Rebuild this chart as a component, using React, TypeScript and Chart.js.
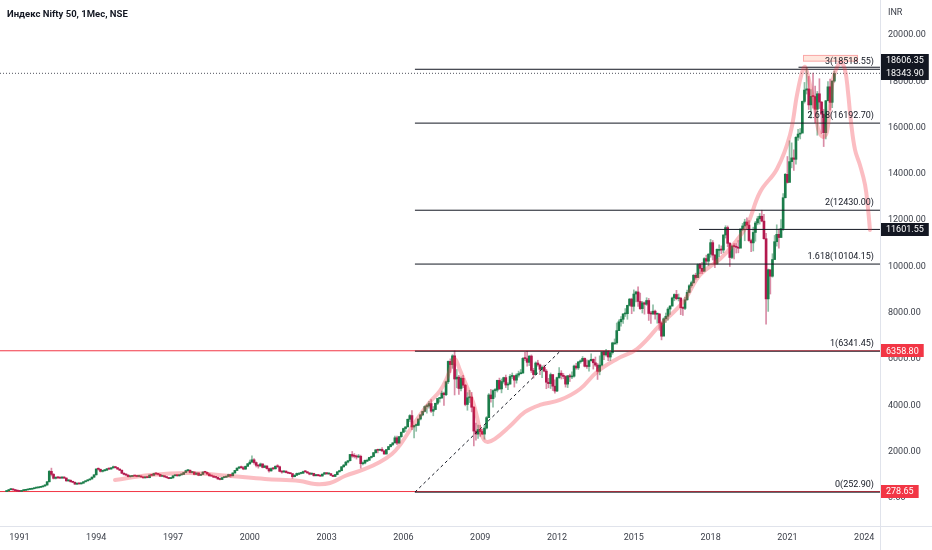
import { useEffect, useRef } from "react"
import { Chart, registerables } from "chart.js"

Chart.register(...registerables)

const TITLE = "Индекс Nifty 50, 1Мес, NSE"
const CURRENCY = "INR"
const FONT = "Roboto, 'Liberation Sans', sans-serif"

// x axis counts months from Jan 1991; the first candle is Jul 1990
const FIRST_MONTH = -6
const FIRST_OPEN = 279
const X_MIN = -9.1
const X_MAX = 403.4
const Y_MIN = -1210
const Y_MAX = 21511

const yearTicks = [1991, 1994, 1997, 2000, 2003, 2006, 2009, 2012, 2015, 2018, 2021, 2024]
const priceTicks = [0, 2000, 4000, 6000, 8000, 10000, 12000, 14000, 16000, 18000, 20000]

// monthly closes, Jul 1990 .. Nov 2022
const closes = [
  310, 360, 390, 350, 320, 300,
  285, 320, 330, 350, 370, 380, 400, 430, 440, 460, 480, 520,
  560, 700, 1150, 1020, 850, 880, 870, 860, 900, 860, 740, 760,
  700, 680, 600, 620, 610, 640, 700, 740, 780, 820, 900, 1000,
  1250, 1240, 1150, 1180, 1200, 1260, 1250, 1300, 1350, 1310, 1250, 1200,
  1070, 1020, 990, 920, 930, 960, 950, 930, 940, 910, 870, 910,
  880, 990, 980, 1060, 1040, 1020, 940, 960, 910, 880, 840, 870,
  960, 980, 960, 1000, 1020, 1100, 1180, 1200, 1100, 1120, 1020, 1080,
  980, 1020, 1120, 1110, 1040, 960, 950, 900, 890, 820, 800, 880,
  900, 930, 1010, 960, 1080, 1190, 1290, 1340, 1310, 1250, 1370, 1480,
  1550, 1650, 1530, 1410, 1380, 1470, 1320, 1380, 1270, 1170, 1270, 1260,
  1370, 1350, 1150, 1120, 1160, 1100, 1070, 1050, 920, 980, 1060, 1060,
  1070, 1140, 1130, 1080, 1030, 1060, 960, 1010, 960, 950, 1030, 1090,
  1040, 1050, 980, 930, 1010, 1130, 1180, 1350, 1420, 1550, 1610, 1880,
  1810, 1800, 1770, 1800, 1480, 1510, 1630, 1630, 1750, 1790, 1960, 2080,
  2060, 2100, 2030, 1900, 2090, 2220, 2310, 2380, 2600, 2370, 2650, 2840,
  3000, 3070, 3400, 3560, 3070, 3130, 3140, 3410, 3590, 3740, 3950, 3970,
  4080, 3750, 3820, 4090, 4300, 4320, 4530, 4460, 5020, 5900, 5760, 6140,
  5140, 5220, 4730, 5170, 4870, 4040, 4330, 4360, 3920, 2890, 2760, 2960,
  2870, 2760, 3020, 3470, 4450, 4290, 4640, 4660, 5080, 4710, 5030, 5200,
  4880, 4920, 5250, 5280, 5090, 5310, 5370, 5400, 6030, 6020, 5860, 6130,
  5510, 5330, 5830, 5750, 5560, 5650, 5480, 5000, 4940, 5330, 4830, 4620,
  5200, 5390, 5300, 5250, 4920, 5280, 5230, 5260, 5700, 5620, 5880, 5910,
  6030, 5690, 5680, 5930, 5990, 5840, 5740, 5470, 5740, 6300, 6180, 6300,
  6090, 6280, 6700, 6700, 7230, 7610, 7720, 7950, 7960, 8320, 8590, 8280,
  8810, 8900, 8490, 8180, 8430, 8370, 8530, 7970, 7950, 8070, 7940, 7950,
  7560, 6990, 7740, 7850, 8160, 8290, 8640, 8790, 8610, 8630, 8220, 8190,
  8560, 8880, 9170, 9300, 9620, 9520, 10080, 9920, 9790, 10340, 10230, 10530,
  11030, 10490, 10110, 10740, 10740, 10710, 11360, 11680, 11000, 10390, 10880, 10860,
  10830, 10790, 11620, 11750, 11920, 11790, 11120, 11020, 11470, 11880, 12060, 12170,
  11960, 11200, 8600, 9860, 9580, 10300, 11070, 11390, 11250, 11640, 12970, 13980,
  13630, 14530, 14690, 14630, 15580, 15720, 15760, 17130, 17620, 17670, 16980, 17350,
  17340, 16790, 17460, 17100, 16580, 15780, 17160, 17760, 17090, 18010, 18343.9,
]

const highs = [
  318, 368, 405, 395, 358, 330,
  310, 325, 340, 360, 378, 392, 410, 440, 452, 470, 492, 530,
  575, 720, 1190, 1290, 1060, 920, 920, 900, 930, 920, 870, 790,
  790, 720, 690, 640, 640, 660, 710, 750, 800, 830, 910, 1010,
  1270, 1300, 1250, 1200, 1220, 1280, 1290, 1320, 1380, 1370, 1320, 1260,
  1210, 1090, 1040, 1000, 950, 980, 975, 960, 960, 950, 915, 920,
  925, 1000, 1010, 1070, 1090, 1060, 1030, 970, 965, 920, 890, 890,
  970, 1000, 1010, 1020, 1040, 1110, 1200, 1220, 1210, 1140, 1130, 1090,
  1090, 1030, 1130, 1150, 1120, 1050, 980, 960, 920, 900, 840, 890,
  920, 950, 1030, 1030, 1090, 1200, 1300, 1360, 1380, 1360, 1380, 1490,
  1640, 1818, 1700, 1560, 1440, 1510, 1480, 1420, 1400, 1290, 1300, 1310,
  1390, 1440, 1380, 1180, 1200, 1170, 1120, 1090, 1060, 1010, 1080, 1100,
  1100, 1160, 1180, 1140, 1100, 1080, 1070, 1020, 1020, 975, 1040, 1110,
  1100, 1080, 1070, 990, 1020, 1140, 1200, 1360, 1450, 1580, 1620, 1890,
  2010, 1920, 1860, 1880, 1850, 1560, 1640, 1680, 1760, 1810, 1970, 2090,
  2110, 2110, 2180, 2060, 2100, 2230, 2320, 2390, 2670, 2670, 2660, 2850,
  3020, 3080, 3410, 3600, 3780, 3140, 3200, 3420, 3600, 3750, 3980, 4050,
  4170, 4250, 3950, 4100, 4300, 4330, 4620, 4580, 5050, 5920, 6010, 6190,
  6360, 5550, 5300, 5230, 5300, 4910, 4550, 4650, 4560, 3960, 3240, 3150,
  3140, 2980, 3120, 3520, 4510, 4690, 4670, 4730, 5090, 5180, 5140, 5220,
  5310, 4990, 5330, 5400, 5280, 5370, 5480, 5550, 6070, 6290, 6340, 6150,
  6180, 5600, 5880, 5950, 5780, 5710, 5740, 5550, 5170, 5400, 5330, 5100,
  5220, 5630, 5500, 5380, 5280, 5290, 5350, 5450, 5740, 5820, 5890, 5970,
  6110, 6050, 5970, 5960, 6230, 6010, 6090, 5810, 6140, 6310, 6340, 6420,
  6360, 6290, 6730, 6870, 7560, 7700, 7840, 7970, 8180, 8330, 8620, 8630,
  8990, 8940, 9120, 8850, 8490, 8470, 8650, 8620, 8060, 8340, 8120, 7980,
  7970, 7600, 7780, 7990, 8220, 8310, 8680, 8820, 8970, 8810, 8670, 8270,
  8670, 8980, 9220, 9370, 9650, 9710, 10110, 10140, 10180, 10380, 10490, 10560,
  11170, 11120, 10530, 10760, 10930, 10890, 11370, 11760, 11750, 11040, 10920, 10990,
  10990, 11120, 11630, 11860, 12040, 12100, 11980, 11180, 11700, 11950, 12160, 12290,
  12430, 12250, 11430, 9890, 9600, 10550, 11340, 11800, 11620, 12030, 13150, 14020,
  14750, 15430, 15340, 15040, 15610, 15920, 15960, 17150, 17950, 18600, 18210, 17640,
  18350, 17790, 17560, 18110, 17130, 16790, 17170, 17990, 18100, 18020, 18443,
]

const lows = [
  276, 302, 352, 340, 312, 295,
  275, 282, 315, 325, 345, 362, 375, 395, 420, 432, 455, 475,
  505, 550, 690, 950, 820, 820, 840, 830, 850, 840, 720, 720,
  690, 660, 590, 580, 595, 600, 635, 690, 730, 770, 810, 890,
  990, 1200, 1120, 1120, 1150, 1190, 1220, 1240, 1290, 1290, 1230, 1180,
  1050, 1000, 960, 905, 900, 920, 935, 915, 920, 900, 860, 860,
  870, 870, 955, 970, 1010, 1000, 930, 925, 900, 860, 830, 830,
  860, 950, 940, 940, 985, 1010, 1090, 1150, 1080, 1080, 1000, 1000,
  960, 970, 1010, 1080, 1010, 940, 930, 880, 860, 810, 780, 790,
  870, 880, 925, 900, 950, 1070, 1180, 1270, 1280, 1220, 1230, 1360,
  1440, 1540, 1460, 1340, 1290, 1370, 1300, 1310, 1250, 1110, 1160, 1230,
  1250, 1320, 1130, 1070, 1110, 1080, 1060, 1040, 850, 910, 970, 1040,
  1040, 1060, 1110, 1070, 1000, 1010, 950, 950, 950, 920, 940, 1020,
  1030, 1020, 960, 920, 925, 1000, 1120, 1170, 1320, 1410, 1520, 1600,
  1760, 1730, 1680, 1740, 1290, 1430, 1470, 1580, 1620, 1720, 1780, 1930,
  1950, 2050, 2020, 1890, 1900, 2080, 2200, 2260, 2380, 2300, 2370, 2620,
  2830, 2870, 3070, 3300, 2950, 2600, 2880, 3120, 3370, 3550, 3720, 3660,
  3880, 3700, 3550, 3810, 4030, 4140, 4300, 4000, 4420, 4940, 5420, 5600,
  4450, 4760, 4470, 4630, 4770, 3980, 3790, 4120, 3720, 2250, 2500, 2570,
  2660, 2740, 2540, 2980, 3480, 4140, 3920, 4360, 4580, 4690, 4540, 4960,
  4770, 4680, 4920, 5160, 4790, 4960, 5220, 5350, 5380, 5930, 5690, 5720,
  5420, 5180, 5350, 5690, 5330, 5200, 5450, 4720, 4760, 4730, 4640, 4530,
  4590, 5160, 5140, 5150, 4790, 4770, 5030, 5150, 5220, 5560, 5550, 5820,
  5890, 5660, 5600, 5480, 5910, 5570, 5680, 5120, 5320, 5700, 5970, 6130,
  5930, 5930, 6210, 6640, 6640, 7230, 7420, 7540, 7840, 7720, 8290, 7960,
  8070, 8470, 8270, 8140, 7990, 7940, 8320, 7670, 7540, 7930, 7720, 7550,
  7240, 6830, 7040, 7580, 7680, 7930, 8290, 8520, 8560, 8510, 7920, 7890,
  8130, 8540, 8860, 9100, 9270, 9450, 9550, 9690, 9690, 9830, 10090, 10030,
  10400, 10280, 9950, 10110, 10420, 10550, 10600, 11230, 10850, 10000, 10340, 10330,
  10580, 10590, 10820, 11550, 11110, 11630, 11080, 10640, 10670, 11090, 11800, 11830,
  11930, 11180, 7510, 8060, 8810, 9540, 10300, 10880, 10790, 11350, 11560, 12960,
  13600, 13660, 14260, 14150, 14420, 15450, 15510, 15830, 17060, 17450, 16780, 16410,
  16840, 16200, 15670, 16820, 15740, 15180, 15510, 17150, 16750, 16860, 17960,
]

// trend-based fib extension
const fibLevels = [0, 1, 1.618, 2, 2.618, 3]
const fibPrices = [252.9, 6341.45, 10104.15, 12430, 16192.7, 18518.55]
const fibStart = 185.4
const trendStart = [185.4, 252.9]
const trendEnd = [253.5, 6341.45]

const redLevels = [6358.8, 278.65]
const rayStarts = [318.6, 365.2]
const rayPrices = [11601.55, 18606.35]
const lastPrice = 18343.9

// hand-drawn brush
const brushMonths = [
  44.8, 61.2, 79.9, 98.7, 115.1, 131.5, 138.5, 145.6, 152.6, 162.0, 169.0, 174.6, 178.4,
  183.1, 187.8, 192.4, 197.1, 200.4, 202.8, 204.2, 206.5, 209.8, 212.6, 214.5, 215.9,
  217.8, 219.6, 222.9, 230.0, 237.0, 244.0, 253.4, 262.8, 270.7, 280.1, 289.5, 300.3,
  311.1, 319.0, 328.4, 334.5, 341.1, 347.2, 355.1, 361.2, 364.5, 366.9, 368.3, 370.6,
  373.0, 374.4, 376.7, 378.5, 380.0, 381.4, 383.3, 385.1, 387.0, 388.4, 389.8, 391.7,
  394.0, 396.4, 397.8, 398.7,
]
const brushPrices = [
  778, 994, 1080, 950, 821, 734, 605, 648, 950, 1253, 1555, 1901, 2290,
  2938, 3586, 4147, 4622, 5184, 5789, 6005, 5530, 4795, 4147, 3499, 2938,
  2506, 2419, 2549, 3110, 3715, 4018, 4234, 4709, 5443, 6005, 6437, 7474,
  8467, 9634, 10325, 10930, 11794, 13219, 14213, 15682, 17410, 18403, 18619, 17842,
  16805, 15941, 15595, 15811, 16978, 18101, 18619, 18792, 18490, 17539, 16243, 15034,
  14386, 13522, 12485, 11578,
]

// small rectangle drawn behind the "3" label
const noteMonths = [367.3, 393.1]
const notePrices = [18848, 19138]

const UP = "#1b7d4a"
const DOWN = "#b3194e"
const UP_WICK = "rgba(27, 125, 74, 0.5)"
const DOWN_WICK = "rgba(179, 25, 78, 0.5)"
const RED = "#f23645"
const INK = "#131722"
const AXIS_TEXT = "#3a3e48"
const SEPARATOR = "#e0e3eb"

const overlayPlugin = {
  id: "overlay",
  beforeDatasetsDraw(chart: any) {
    const { ctx, scales } = chart
    const x = scales.x
    const y = scales.y
    const l = x.getPixelForValue(noteMonths[0])
    const r = x.getPixelForValue(noteMonths[1])
    const t = y.getPixelForValue(notePrices[1])
    const b = y.getPixelForValue(notePrices[0])
    ctx.save()
    ctx.fillStyle = "rgba(255, 200, 180, 0.45)"
    ctx.fillRect(l, t, r - l, b - t)
    ctx.strokeStyle = "rgba(242, 54, 69, 0.35)"
    ctx.lineWidth = 1
    ctx.strokeRect(l + 0.5, t + 0.5, r - l - 1, b - t - 1)
    ctx.restore()
  },
  afterDatasetsDraw(chart: any) {
    const { ctx, chartArea, scales } = chart
    const y = scales.y
    ctx.save()
    ctx.font = `9px ${FONT}`
    ctx.fillStyle = INK
    ctx.textAlign = "right"
    ctx.textBaseline = "bottom"
    fibLevels.forEach((lvl, i) => {
      const py = y.getPixelForValue(fibPrices[i])
      ctx.fillText(`${lvl}(${fibPrices[i].toFixed(2)})`, chartArea.right - 6, py - 3)
    })
    ctx.restore()
  },
  afterDraw(chart: any) {
    const { ctx, chartArea, scales, width, height } = chart
    const y = scales.y
    ctx.save()
    // pane separators
    ctx.strokeStyle = SEPARATOR
    ctx.lineWidth = 1
    ctx.beginPath()
    ctx.moveTo(0, Math.round(chartArea.bottom) + 0.5)
    ctx.lineTo(width, Math.round(chartArea.bottom) + 0.5)
    ctx.moveTo(Math.round(chartArea.right) + 0.5, 0)
    ctx.lineTo(Math.round(chartArea.right) + 0.5, height)
    ctx.stroke()

    ctx.font = `9px ${FONT}`
    ctx.fillStyle = AXIS_TEXT
    ctx.textAlign = "left"
    ctx.textBaseline = "middle"
    ctx.fillText(CURRENCY, chartArea.right + 8, 13)

    // price labels on the scale
    const labels = [
      { price: rayPrices[1], bg: INK },
      { price: lastPrice, bg: INK },
      { price: rayPrices[0], bg: INK },
      { price: redLevels[0], bg: RED },
      { price: redLevels[1], bg: RED },
    ].map((l) => ({ ...l, py: y.getPixelForValue(l.price) }))
    labels.sort((a, b) => a.py - b.py)
    const h = 13
    for (let i = labels.length - 2; i >= 0; i--) {
      if (labels[i].py > labels[i + 1].py - h) labels[i].py = labels[i + 1].py - h
    }
    labels.forEach((l) => {
      const text = l.price.toFixed(2)
      const w = ctx.measureText(text).width + 10
      ctx.fillStyle = l.bg
      ctx.fillRect(chartArea.right + 1, Math.round(l.py - h / 2), w, h)
      ctx.fillStyle = "#ffffff"
      ctx.fillText(text, chartArea.right + 6, l.py + 0.5)
    })
    ctx.restore()
  },
}

export default function App() {
  const canvasRef = useRef<HTMLCanvasElement | null>(null)
  const chartRef = useRef<Chart | null>(null)

  useEffect(() => {
    if (!canvasRef.current) return

    const opens = closes.map((_, i) => (i === 0 ? FIRST_OPEN : closes[i - 1]))
    const months = closes.map((_, i) => FIRST_MONTH + i)
    const rising = closes.map((c, i) => c >= opens[i])

    const flat = (from: number, price: number) => [
      { x: from, y: price },
      { x: X_MAX, y: price },
    ]

    const lineSet = (data: any[], color: string, order: number, extra: any = {}) => ({
      type: "line" as const,
      data,
      borderColor: color,
      borderWidth: 1,
      pointRadius: 0,
      pointHoverRadius: 0,
      pointBorderWidth: 0,
      tension: 0,
      order,
      ...extra,
    })

    const datasets: any[] = [
      lineSet(
        brushMonths.map((m, i) => ({ x: m, y: brushPrices[i] })),
        "rgba(242, 54, 69, 0.33)",
        0,
        { borderWidth: 4, tension: 0.4, borderCapStyle: "round", borderJoinStyle: "round" }
      ),
      lineSet(
        [
          { x: trendStart[0], y: trendStart[1] },
          { x: trendEnd[0], y: trendEnd[1] },
        ],
        INK,
        1,
        { borderDash: [3, 3] }
      ),
      ...fibPrices.map((p) => lineSet(flat(fibStart, p), INK, 2)),
      ...rayPrices.map((p, i) => lineSet(flat(rayStarts[i], p), INK, 2)),
      lineSet(flat(X_MIN, lastPrice), "#50535e", 2, { borderDash: [1, 2] }),
      {
        type: "bar",
        data: months.map((m, i) => ({ x: m, y: [opens[i], closes[i]] })),
        backgroundColor: rising.map((r) => (r ? UP : DOWN)),
        barThickness: 2,
        minBarLength: 1,
        grouped: false,
        order: 3,
      },
      {
        type: "bar",
        data: months.map((m, i) => ({ x: m, y: [lows[i], highs[i]] })),
        backgroundColor: rising.map((r) => (r ? UP_WICK : DOWN_WICK)),
        barThickness: 1,
        grouped: false,
        order: 4,
      },
      ...redLevels.map((p) => lineSet(flat(X_MIN, p), RED, 5)),
    ]

    if (chartRef.current) chartRef.current.destroy()

    chartRef.current = new Chart(canvasRef.current, {
      type: "bar",
      data: { datasets },
      options: {
        responsive: false,
        animation: false,
        layout: { padding: 0, autoPadding: false },
        plugins: {
          legend: { display: false },
          tooltip: { enabled: false },
        },
        scales: {
          x: {
            type: "linear",
            min: X_MIN,
            max: X_MAX,
            offset: false,
            grid: { display: false, drawTicks: false, offset: false },
            border: { display: false },
            afterBuildTicks: (axis: any) => {
              axis.ticks = yearTicks.map((yr) => ({ value: (yr - yearTicks[0]) * 12 }))
            },
            afterFit: (axis: any) => {
              axis.height = 24
              axis.paddingLeft = 0
              axis.paddingRight = 0
            },
            ticks: {
              autoSkip: false,
              maxRotation: 0,
              padding: 6,
              color: AXIS_TEXT,
              font: { family: FONT, size: 9 },
              callback: (_v: any, i: number) => String(yearTicks[i]),
            },
          },
          y: {
            type: "linear",
            position: "right",
            min: Y_MIN,
            max: Y_MAX,
            grid: { display: false, drawTicks: false },
            border: { display: false },
            afterBuildTicks: (axis: any) => {
              axis.ticks = priceTicks.map((v) => ({ value: v }))
            },
            afterFit: (axis: any) => {
              axis.width = 52
              axis.paddingTop = 0
              axis.paddingBottom = 0
            },
            ticks: {
              autoSkip: false,
              padding: 8,
              color: AXIS_TEXT,
              font: { family: FONT, size: 9 },
              callback: (v: any) => Number(v).toFixed(2),
            },
          },
        },
      },
      plugins: [overlayPlugin],
    })

    return () => {
      if (chartRef.current) {
        chartRef.current.destroy()
        chartRef.current = null
      }
    }
  }, [])

  return (
    <div
      style={{
        position: "absolute",
        left: 0,
        top: 0,
        width: 932,
        height: 550,
        background: "#ffffff",
      }}
    >
      <canvas ref={canvasRef} width={932} height={550} style={{ display: "block" }} />
      <div
        style={{
          position: "absolute",
          left: 7,
          top: 8,
          font: `bold 9.5px ${FONT}`,
          color: INK,
          whiteSpace: "nowrap",
        }}
      >
        {TITLE}
      </div>
    </div>
  )
}
